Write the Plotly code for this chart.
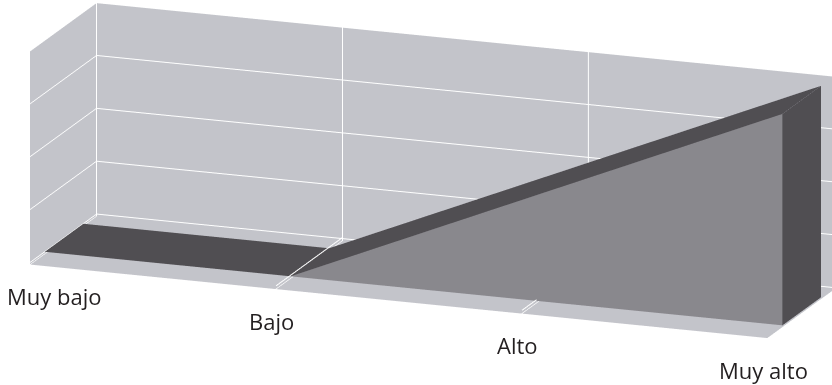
import numpy as np
import plotly.graph_objects as go

# Category axis and series values
categories = ["Muy bajo", "Bajo", "Alto", "Muy alto"]
values = [0, 0, 50, 100]
value_ticks = [0, 25, 50, 75, 100]

# Depth slot occupied by the single area series (fraction of the floor depth)
series_front, series_back = 0.22, 0.80

WALL = "#c3c4ca"
FRONT = "#89888d"
DARK = "#504e52"
TEXT = "#231f20"

xs = np.arange(len(categories), dtype=float)
vals = np.asarray(values, dtype=float)

# Vertices: front-bottom, front-top, back-bottom, back-top for each category
verts = []
for x, v in zip(xs, vals):
    verts += [(x, series_front, 0.0), (x, series_front, v),
              (x, series_back, 0.0), (x, series_back, v)]
verts = np.array(verts)
fb = lambda i: 4 * i
ft = lambda i: 4 * i + 1
bb = lambda i: 4 * i + 2
bt = lambda i: 4 * i + 3

tris, cols = [], []
n = len(categories)
for i in range(n - 1):
    # front face
    tris += [(fb(i), fb(i + 1), ft(i + 1)), (fb(i), ft(i + 1), ft(i))]
    cols += [FRONT, FRONT]
    # top surface
    tris += [(ft(i), ft(i + 1), bt(i + 1)), (ft(i), bt(i + 1), bt(i))]
    cols += [DARK, DARK]
# right end cap
last = n - 1
tris += [(fb(last), bb(last), bt(last)), (fb(last), bt(last), ft(last))]
cols += [DARK, DARK]
tris = np.array(tris)

area = go.Mesh3d(
    x=verts[:, 0], y=verts[:, 1], z=verts[:, 2],
    i=tris[:, 0], j=tris[:, 1], k=tris[:, 2],
    facecolor=cols, flatshading=True,
    lighting=dict(ambient=1.0, diffuse=0.0, specular=0.0, roughness=1.0, fresnel=0.0),
    hoverinfo="skip", showscale=False,
)

# floor category gridlines, kept visible where the area lies flat on the floor
gx, gy, gz = [], [], []
for x in xs[1:-1]:
    gx += [x, x, None]
    gy += [0.0, 1.0, None]
    gz += [0.5, 0.5, None]
floor_grid = go.Scatter3d(
    x=gx, y=gy, z=gz, mode="lines",
    line=dict(color="white", width=2),
    hoverinfo="skip", showlegend=False,
)

fig = go.Figure([area, floor_grid])

axis_common = dict(
    showbackground=True, backgroundcolor=WALL,
    gridcolor="white", gridwidth=2,
    showline=False, zeroline=False, showspikes=False,
    showticklabels=False, ticks="", title=dict(text=""),
)

# camera: orthographic view from front-right, slightly above
elev, azim = np.radians(15.62), np.radians(20.32)
e = np.array([np.cos(elev) * np.sin(azim), -np.cos(elev) * np.cos(azim), np.sin(elev)])
r = np.array([np.cos(azim), np.sin(azim), 0.0])
u = np.array([-np.sin(elev) * np.sin(azim), np.sin(elev) * np.cos(azim), np.cos(elev)])
center = -0.084 * r - 0.115 * u
dist = 2.0
eye = center + dist * e

annotations = []
for x, label in zip(xs, categories):
    annotations.append(dict(
        x=x, y=0, z=0, text=label, showarrow=False,
        xanchor="center", yanchor="top", yshift=-17, xshift=(24 if x == 0 else -4),
        font=dict(family="Open Sans", size=22, color=TEXT),
    ))

fig.update_layout(
    width=832, height=385,
    margin=dict(l=0, r=0, t=0, b=0),
    paper_bgcolor="white",
    showlegend=False,
    scene=dict(
        domain=dict(x=[0, 1], y=[0, 1]),
        xaxis=dict(axis_common, range=[0, 3], tickvals=list(xs)),
        yaxis=dict(axis_common, range=[0, 1], showgrid=False),
        zaxis=dict(axis_common, range=[-1, 100], tickvals=value_ticks),
        aspectmode="manual",
        aspectratio=dict(x=4.087, y=0.995, z=1.152),
        camera=dict(
            projection=dict(type="orthographic"),
            eye=dict(x=eye[0], y=eye[1], z=eye[2]),
            center=dict(x=center[0], y=center[1], z=center[2]),
            up=dict(x=0, y=0, z=1),
        ),
        annotations=annotations,
        dragmode=False,
    ),
)

fig.write_html("out.html", config=dict(displayModeBar=False))
